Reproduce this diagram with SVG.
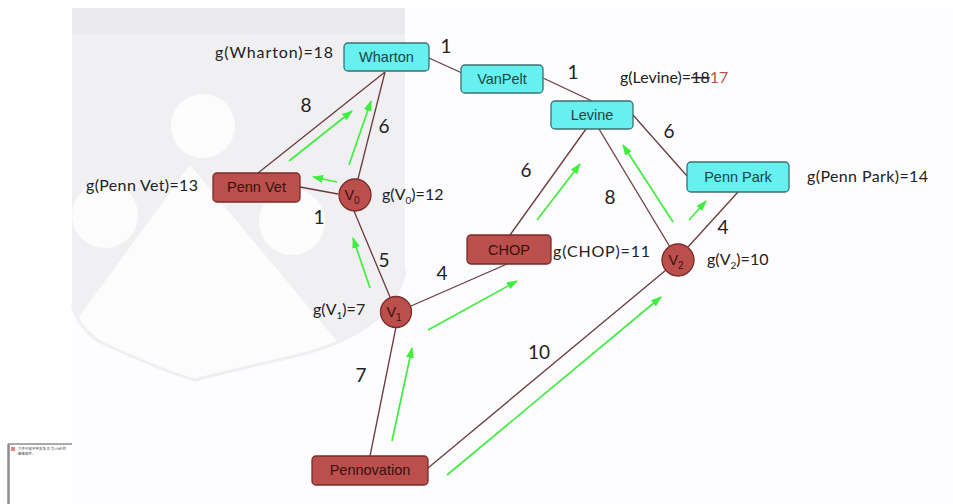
<svg xmlns="http://www.w3.org/2000/svg" width="953" height="504" viewBox="0 0 953 504">
<defs>
<style>
.edge{stroke:#6b3b3b;stroke-width:1.3;fill:none}
.flow{stroke:#3fee3f;stroke-width:1.7;fill:none;marker-end:url(#ah)}
.cy{fill:#66f0ef;stroke:#3d6f70;stroke-width:1.3}
.rd{fill:#bb4f4c;stroke:#7a2a29;stroke-width:1.3}
.bt{font-family:"Liberation Sans",Arial,sans-serif;font-size:14.5px;text-anchor:middle}
.bc{fill:#1e4545}
.br{fill:#3a0f0f}
.g{font-family:Lato,"Liberation Sans",sans-serif;font-size:16px;fill:#222}
.w{font-family:Lato,"Liberation Sans",sans-serif;font-size:19px;fill:#222;text-anchor:middle}
.sub{font-size:10px}
</style>
<marker id="ah" markerUnits="userSpaceOnUse" markerWidth="12" markerHeight="10" refX="10" refY="4" orient="auto">
<path d="M0,0 L11,4 L0,8 Z" fill="#3fee3f"/>
</marker>
<clipPath id="sh"><path d="M72,8 H405 V270 Q395,330 300,355 Q225,372 195,380 Q165,372 100,342 Q80,330 72,305 Z"/></clipPath>
</defs>
<rect width="953" height="504" fill="#ffffff"/>
<rect x="72" y="8" width="881" height="496" fill="#fdfcfe"/>
<g id="watermark" clip-path="url(#sh)">
<rect x="72" y="8" width="333" height="380" fill="#f0f0f2"/>
<rect x="72" y="8" width="333" height="26" fill="#eaeaec"/>
<path d="M190,165 L62,340 L62,400 L386,400 Z" fill="#fcfcfd"/>
<circle cx="203" cy="126" r="32" fill="#fcfcfd"/>
<circle cx="105" cy="215" r="33" fill="#fcfcfd"/>
<circle cx="292" cy="222" r="33" fill="#fcfcfd"/>
</g>
<path d="M72,305 Q80,330 100,342 Q165,372 195,380 Q225,372 300,355 Q395,330 405,270" fill="none" stroke="#efeff1" stroke-width="3"/>
<g id="placeholder">
<path d="M8,504 V444 H72" fill="none" stroke="#555" stroke-width="1"/>
<path d="M9,445 V504" stroke="#888" stroke-width="1.5"/>
<rect x="11" y="447" width="4" height="4" fill="#f08080"/>
<text x="18" y="450" font-family="'Noto Sans CJK SC',sans-serif" font-size="3.5" fill="#444">文件中找不到关系 ID 为 rId4 的</text>
<text x="18" y="455" font-family="'Noto Sans CJK SC',sans-serif" font-size="3.5" fill="#444">图像部件。</text>
</g>
<g id="connectors">
<line class="edge" x1="429" y1="58" x2="462" y2="73"/>
<line class="edge" x1="543" y1="78" x2="592" y2="101"/>
<line class="edge" x1="633" y1="115" x2="687" y2="176"/>
<line class="edge" x1="385" y1="72" x2="258" y2="173"/>
<line class="edge" x1="385" y1="72" x2="358" y2="179"/>
<line class="edge" x1="300" y1="187" x2="338" y2="194"/>
<line class="edge" x1="354" y1="211" x2="390" y2="297"/>
<line class="edge" x1="411" y1="306" x2="507" y2="264"/>
<line class="edge" x1="396" y1="327" x2="370" y2="456"/>
<line class="edge" x1="510" y1="235" x2="586" y2="129"/>
<line class="edge" x1="599" y1="129" x2="670" y2="247"/>
<line class="edge" x1="688" y1="247" x2="738" y2="192"/>
<line class="edge" x1="428" y1="468" x2="666" y2="270"/>
<line class="flow" x1="289" y1="161" x2="352" y2="111"/>
<line class="flow" x1="349" y1="165" x2="371" y2="101"/>
<line class="flow" x1="337" y1="182" x2="313" y2="177"/>
<line class="flow" x1="370" y1="288" x2="353" y2="238"/>
<line class="flow" x1="428" y1="330" x2="517" y2="281"/>
<line class="flow" x1="392" y1="441" x2="412" y2="348"/>
<line class="flow" x1="447" y1="475" x2="661" y2="297"/>
<line class="flow" x1="537" y1="220" x2="580" y2="164"/>
<line class="flow" x1="673" y1="222" x2="623" y2="145"/>
<line class="flow" x1="689" y1="220" x2="706" y2="201"/>
<text class="w" x="446" y="53">1</text>
<text class="w" x="573" y="79">1</text>
<text class="w" x="669" y="138">6</text>
<text class="w" x="306" y="112">8</text>
<text class="w" x="384" y="133">6</text>
<text class="w" x="319" y="224">1</text>
<text class="w" x="384" y="267">5</text>
<text class="w" x="442" y="280">4</text>
<text class="w" x="526" y="177">6</text>
<text class="w" x="610" y="204">8</text>
<text class="w" x="723" y="234">4</text>
<text class="w" x="539" y="359">10</text>
<text class="w" x="361" y="382">7</text>
</g>
<g id="wharton">
<rect class="cy" x="344" y="43" width="85" height="28" rx="4"/>
<text class="bt bc" x="386.5" y="62">Wharton</text>
<text class="g" x="215" y="58" textLength="118">g(Wharton)=18</text>
</g>
<g id="vanpelt">
<rect class="cy" x="461" y="65" width="82" height="28" rx="4"/>
<text class="bt bc" x="502" y="84">VanPelt</text>
</g>
<g id="levine">
<rect class="cy" x="551" y="101" width="82" height="28" rx="4"/>
<text class="bt bc" x="592" y="120">Levine</text>
<text class="g" x="620" y="83">g(Levine)=<tspan text-decoration="line-through">18</tspan><tspan fill="#b5564c">17</tspan></text>
</g>
<g id="pennpark">
<rect class="cy" x="687" y="162" width="102" height="30" rx="4"/>
<text class="bt bc" x="738" y="182">Penn Park</text>
<text class="g" x="807" y="182" textLength="121">g(Penn Park)=14</text>
</g>
<g id="pennvet">
<rect class="rd" x="213" y="173" width="87" height="29" rx="4"/>
<text class="bt br" x="256.5" y="192">Penn Vet</text>
<text class="g" x="86" y="191" textLength="112">g(Penn Vet)=13</text>
</g>
<g id="v0">
<circle class="rd" cx="355" cy="195" r="16"/>
<text class="bt br" x="352" y="200">V<tspan class="sub" dy="4">0</tspan></text>
<text class="g" x="382" y="200">g(V<tspan class="sub" dy="4">0</tspan><tspan dy="-4">)=12</tspan></text>
</g>
<g id="chop">
<rect class="rd" x="467" y="235" width="84" height="29" rx="4"/>
<text class="bt br" x="509" y="255">CHOP</text>
<text class="g" x="553" y="257" textLength="97">g(CHOP)=11</text>
</g>
<g id="v1">
<circle class="rd" cx="396" cy="312" r="15.5"/>
<text class="bt br" x="394" y="317">V<tspan class="sub" dy="4">1</tspan></text>
<text class="g" x="313" y="315">g(V<tspan class="sub" dy="4">1</tspan><tspan dy="-4">)=7</tspan></text>
</g>
<g id="v2">
<circle class="rd" cx="678" cy="260" r="16"/>
<text class="bt br" x="676" y="265">V<tspan class="sub" dy="4">2</tspan></text>
<text class="g" x="707" y="265">g(V<tspan class="sub" dy="4">2</tspan><tspan dy="-4">)=10</tspan></text>
</g>
<g id="pennovation">
<rect class="rd" x="312" y="456" width="116" height="29" rx="4"/>
<text class="bt br" x="370" y="475">Pennovation</text>
</g>
</svg>
